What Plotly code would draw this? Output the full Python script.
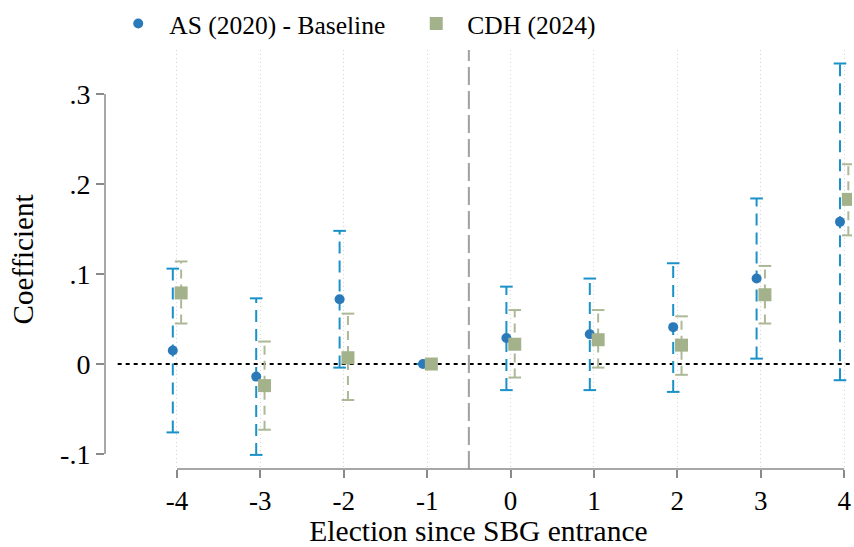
import plotly.graph_objects as go

# ---- data ----
events = [-4, -3, -2, -1, 0, 1, 2, 3, 4]
as_coef = [0.015, -0.014, 0.072, 0.0, 0.029, 0.033, 0.041, 0.095, 0.158]
as_lo = [-0.076, -0.101, -0.004, 0.0, -0.029, -0.029, -0.031, 0.006, -0.018]
as_hi = [0.106, 0.073, 0.148, 0.0, 0.086, 0.095, 0.112, 0.184, 0.334]
cdh_coef = [0.079, -0.024, 0.007, 0.0, 0.022, 0.027, 0.021, 0.077, 0.183]
cdh_lo = [0.045, -0.073, -0.040, 0.0, -0.015, -0.004, -0.012, 0.045, 0.143]
cdh_hi = [0.114, 0.025, 0.056, 0.0, 0.060, 0.060, 0.053, 0.109, 0.222]
ytick_vals = [-0.1, 0.0, 0.1, 0.2, 0.3]
ytick_text = ["-.1", "0", ".1", ".2", ".3"]
series_names = ["AS (2020) - Baseline", "CDH (2024)"]
x_title = "Election since SBG entrance"
y_title = "Coefficient"

# ---- style ----
FONT = "Liberation Serif"
BLUE_PT = "#2a7ab9"
BLUE_CI = "#1a92c9"
GREEN_PT = "#a3b28a"
GREEN_CI = "#adb996"
AXIS = "#8a8a8a"
OFF = 0.05


def ci_trace(xs, lo, hi, color, dash):
    sx, sy = [], []
    for x, a, b in zip(xs, lo, hi):
        sx += [x, x, None]
        sy += [a, b, None]
    return go.Scatter(x=sx, y=sy, mode="lines", line=dict(color=color, width=2, dash=dash),
                      showlegend=False, hoverinfo="skip")


def cap_trace(xs, lo, hi, color):
    return go.Scatter(x=list(xs) + list(xs), y=list(lo) + list(hi), mode="markers",
                      marker=dict(symbol="line-ew", size=9, line=dict(color=color, width=2)),
                      showlegend=False, hoverinfo="skip")


xb = [e - OFF for e in events]
xg = [e + OFF for e in events]

fig = go.Figure()
fig.add_trace(ci_trace(xb, as_lo, as_hi, BLUE_CI, "12px,7px"))
fig.add_trace(cap_trace(xb, as_lo, as_hi, BLUE_CI))
fig.add_trace(ci_trace(xg, cdh_lo, cdh_hi, GREEN_CI, "9px,6px"))
fig.add_trace(cap_trace(xg, cdh_lo, cdh_hi, GREEN_CI))
fig.add_trace(go.Scatter(x=xb, y=as_coef, mode="markers", name=series_names[0],
                         marker=dict(symbol="circle", size=10, color=BLUE_PT)))
fig.add_trace(go.Scatter(x=xg, y=cdh_coef, mode="markers", name=series_names[1],
                         marker=dict(symbol="square", size=13, color=GREEN_PT)))

# reference lines
fig.add_shape(type="line", xref="paper", yref="y", x0=0.017, x1=1, y0=0, y1=0,
              line=dict(color="black", width=2, dash="4px,4px"), layer="below")
fig.add_shape(type="line", xref="x", yref="paper", x0=-0.5, x1=-0.5, y0=0, y1=1,
              line=dict(color="#a0a0a0", width=2, dash="18px,6px"), layer="below")
# Stata-style detached axis lines
fig.add_shape(type="line", xref="paper", yref="y", x0=0, x1=0, y0=min(ytick_vals), y1=max(ytick_vals),
              line=dict(color=AXIS, width=1.5))
fig.add_shape(type="line", xref="x", yref="paper", x0=min(events), x1=max(events), y0=0, y1=0,
              line=dict(color=AXIS, width=1.5))

fig.update_layout(
    width=854, height=547,
    margin=dict(l=105, r=2, t=50, b=78, autoexpand=False),
    paper_bgcolor="white", plot_bgcolor="white",
    font=dict(family=FONT, color="black", size=28),
    showlegend=True,
    legend=dict(orientation="h", x=0.003, xanchor="left",
                yref="container", y=1 - 24 / 547, yanchor="middle",
                font=dict(size=25.5, family=FONT), bgcolor="rgba(0,0,0,0)",
                itemwidth=52, entrywidth=231, entrywidthmode="pixels", itemsizing="trace"),
    xaxis=dict(range=[-4.863, 4.094], tickvals=events, ticktext=[str(e) for e in events],
               showgrid=True, gridcolor="#d4d4d4", gridwidth=1, griddash="1px,3px",
               zeroline=False, showline=False, ticks="outside", ticklen=8, tickwidth=1.5,
               tickcolor=AXIS, tickfont=dict(size=27, family=FONT),
               title=dict(text=x_title, font=dict(size=29.5, family=FONT), standoff=18)),
    yaxis=dict(range=[-0.11667, 0.349], tickvals=ytick_vals, ticktext=ytick_text,
               showgrid=False, zeroline=False, showline=False, ticks="outside", ticklen=8,
               tickwidth=1.5, tickcolor=AXIS, tickfont=dict(size=28, family=FONT),
               title=dict(text=y_title, font=dict(size=29, family=FONT), standoff=17)),
)

fig.write_html("out.html")
